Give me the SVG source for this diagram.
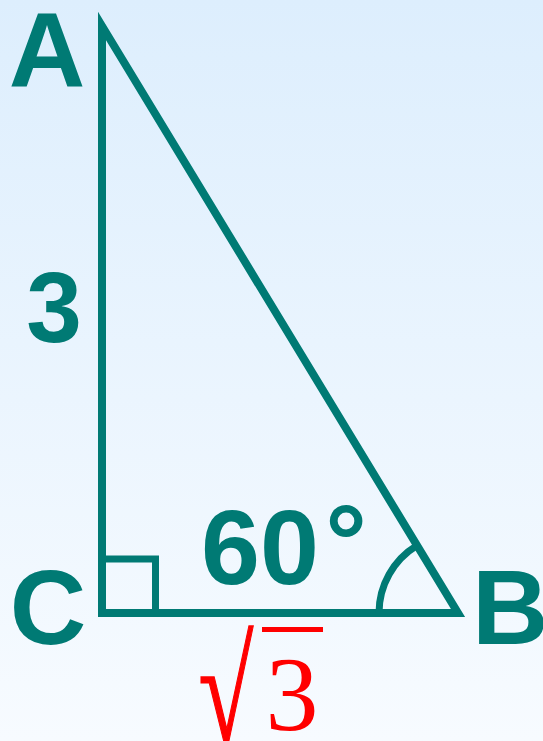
<svg xmlns="http://www.w3.org/2000/svg" width="543" height="741" viewBox="0 0 543 741">
  <defs>
    <linearGradient id="bg" x1="0" y1="0" x2="0" y2="1">
      <stop offset="0" stop-color="#DDEEFD"/>
      <stop offset="1" stop-color="#F7FBFF"/>
    </linearGradient>
  </defs>
  <style>
    .lbl { font-family: "Liberation Sans", Arial, sans-serif; font-weight: bold; fill: #007A74; }
    .edge { fill: none; stroke: #007A74; stroke-width: 8; stroke-linejoin: miter; }
    .mark { fill: none; stroke: #007A74; stroke-width: 7; }
    .red { font-family: "Liberation Serif", "Times New Roman", serif; fill: #FF0000; }
  </style>
  <rect width="543" height="741" fill="url(#bg)"/>
  <g id="connectors">
    <polygon id="triangle" class="edge" points="102,26 458,613 102,613"/>
    <path id="right-angle" class="mark" d="M102 559 H155.5 V613"/>
    <path id="angle-arc" class="mark" d="M379 613 A79 79 0 0 1 417 545.5"/>
  </g>
  <g id="node-A"><text class="lbl" x="47" y="87" font-size="106" text-anchor="middle">A</text></g>
  <g id="node-C"><text class="lbl" x="48" y="644" font-size="106" text-anchor="middle">C</text></g>
  <g id="node-B"><text class="lbl" x="472" y="644" font-size="106">B</text></g>
  <g id="label-3"><text class="lbl" x="54" y="342" font-size="100" text-anchor="middle">3</text></g>
  <g id="label-60"><text class="lbl" x="260" y="584" font-size="106" text-anchor="middle">60</text><text class="lbl" x="346" y="577" font-size="104" text-anchor="middle">°</text></g>
  <g id="label-sqrt3">
    <text class="red" font-size="100" stroke="#FF0000" stroke-width="1" transform="translate(198.5 740) scale(1 1.44)">√</text>
    <line x1="262" y1="629.5" x2="323" y2="629.5" stroke="#FF0000" stroke-width="5"/>
    <text class="red" x="292" y="730" font-size="106" text-anchor="middle">3</text>
  </g>
</svg>
